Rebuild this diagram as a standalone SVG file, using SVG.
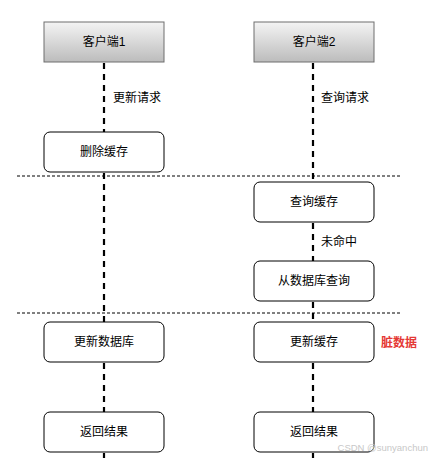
<svg xmlns="http://www.w3.org/2000/svg" width="432" height="458" viewBox="0 0 432 458">
<defs>
<linearGradient id="g" x1="0" y1="0" x2="0" y2="1">
<stop offset="0" stop-color="#f4f4f4"/>
<stop offset="1" stop-color="#bcbcbc"/>
</linearGradient>
<style>
text{font-family:"Liberation Sans","Noto Sans CJK SC",sans-serif;font-size:12px;fill:#000;}
.c{text-anchor:middle;dominant-baseline:central;}
.head{fill:url(#g);stroke:#6e6e6e;stroke-width:1;}
.box{fill:#fff;stroke:#000;stroke-width:1;}
.life{stroke:#000;stroke-width:2.2;stroke-dasharray:6 5;fill:none;}
.sep{stroke:#000;stroke-width:1;stroke-dasharray:3 2;fill:none;}
.lbl{dominant-baseline:central;}
.dirty{fill:#e53935;font-weight:bold;dominant-baseline:central;}
.wm{fill:#c8c8c8;font-size:9.5px;dominant-baseline:central;text-anchor:end;}
</style>
</defs>
<rect width="432" height="458" fill="#fff"/>
<g id="connectors">
<line class="life" x1="104" y1="63" x2="104" y2="132"/>
<line class="life" x1="104" y1="173" x2="104" y2="322"/>
<line class="life" x1="104" y1="363" x2="104" y2="412"/>
<line class="life" x1="104" y1="453" x2="104" y2="458"/>
<line class="life" x1="313" y1="63" x2="313" y2="182"/>
<line class="life" x1="313" y1="223" x2="313" y2="261"/>
<line class="life" x1="313" y1="302" x2="313" y2="322"/>
<line class="life" x1="313" y1="363" x2="313" y2="412"/>
<line class="life" x1="313" y1="453" x2="313" y2="458"/>
<line class="sep" x1="17" y1="176" x2="402" y2="176"/>
<line class="sep" x1="17" y1="313" x2="402" y2="313"/>
<text class="lbl" x="113" y="98">更新请求</text>
<text class="lbl" x="321" y="98">查询请求</text>
<text class="lbl" x="321" y="242">未命中</text>
</g>
<g id="client1"><rect class="head" x="44" y="22" width="120" height="40"/><text class="c" x="104" y="42">客户端1</text></g>
<g id="client2"><rect class="head" x="254" y="22" width="120" height="40"/><text class="c" x="314" y="42">客户端2</text></g>
<g id="delCache"><rect class="box" x="44" y="132" width="120" height="40" rx="6"/><text class="c" x="104" y="152">删除缓存</text></g>
<g id="queryCache"><rect class="box" x="254" y="182" width="120" height="40" rx="6"/><text class="c" x="314" y="202">查询缓存</text></g>
<g id="queryDb"><rect class="box" x="254" y="261" width="120" height="40" rx="6"/><text class="c" x="314" y="281">从数据库查询</text></g>
<g id="updateDb"><rect class="box" x="44" y="322" width="120" height="40" rx="6"/><text class="c" x="104" y="342">更新数据库</text></g>
<g id="updateCache"><rect class="box" x="254" y="322" width="120" height="40" rx="6"/><text class="c" x="314" y="342">更新缓存</text><text class="dirty" x="381" y="343">脏数据</text></g>
<g id="ret1"><rect class="box" x="44" y="412" width="120" height="40" rx="6"/><text class="c" x="104" y="432">返回结果</text></g>
<g id="ret2"><rect class="box" x="254" y="412" width="120" height="40" rx="6"/><text class="c" x="314" y="432">返回结果</text></g>
<text class="wm" x="428" y="447">CSDN @sunyanchun</text>
</svg>
